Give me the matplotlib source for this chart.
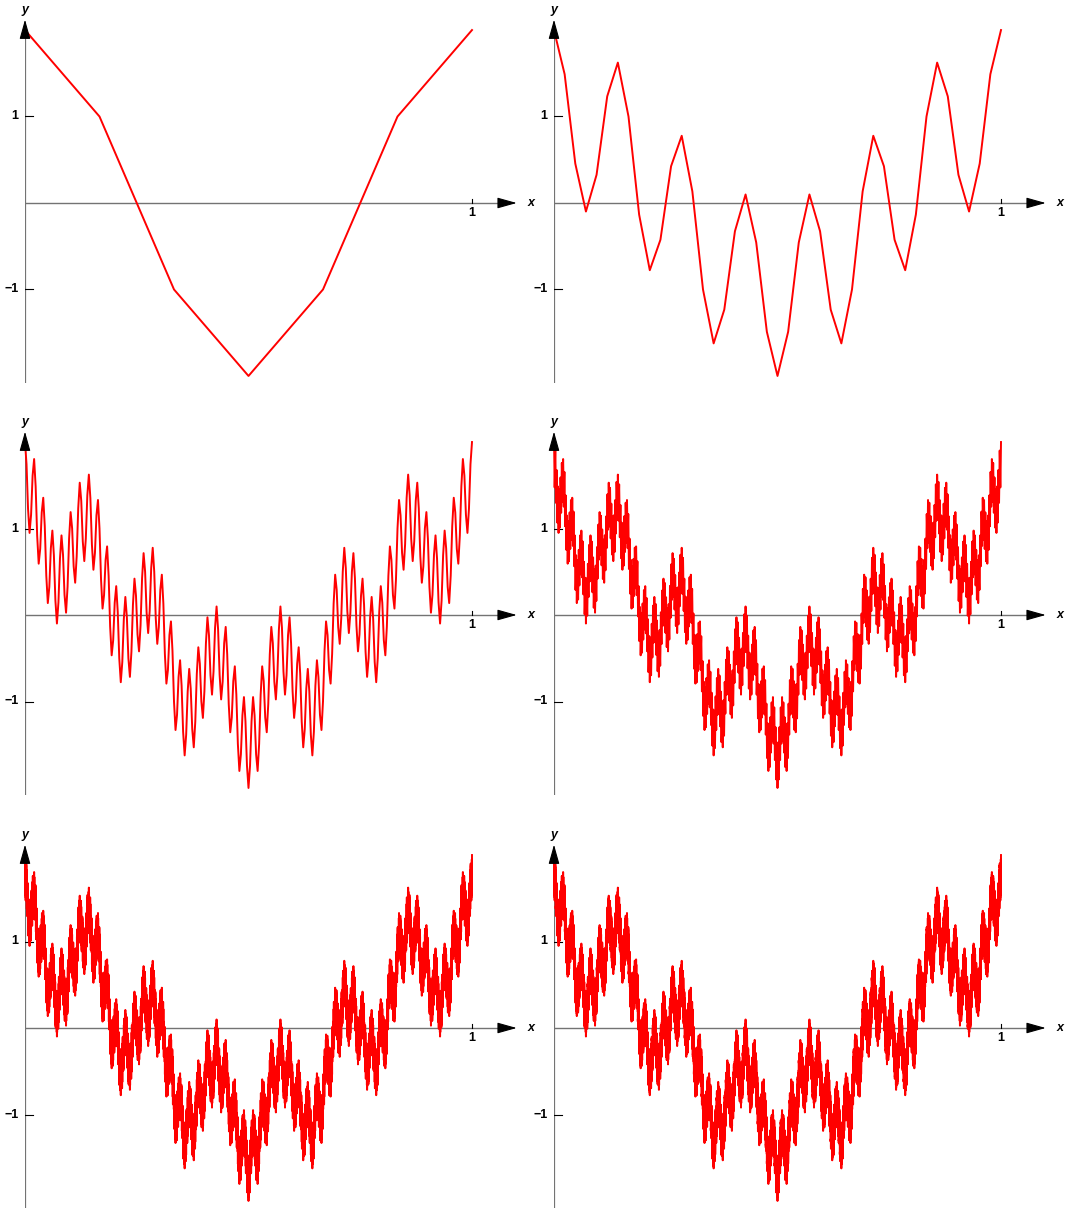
import numpy as np
import matplotlib
matplotlib.use("Agg")
import matplotlib.pyplot as plt

# Weierstrass-type sum W(x) = sum a^n cos(2*pi*b^n*x), sampled on finer and finer grids
amp_ratio = 0.5
freq_ratio = 7
n_terms = 12
grid_sizes = [6, 42, 294, 2058, 14406, 100842]

y_ticks = [1, -1]
y_tick_labels = ["1", "\u22121"]
x_ticks = [1]
x_tick_labels = ["1"]


def sample_curve(n_int):
    j = np.arange(n_int + 1, dtype=np.int64)
    total = np.zeros(n_int + 1)
    for n in range(n_terms):
        k = pow(freq_ratio, n, n_int)
        phase = (j * k) % n_int
        total += amp_ratio ** n * np.cos(2 * np.pi * phase / n_int)
    return j / n_int, total


W, H = 1065, 1211
fig = plt.figure(figsize=(W / 100, H / 100), dpi=100)

# pixel layout of each panel: origin x-pixel, x-axis y-pixel
col_x0 = [25, 554]
row_y0 = [203, 615, 1028]
px_per_x = 447.0
px_per_y = 86.5
xmin, xmax = 0.0, 1.1
ymin, ymax = -2.08, 2.12

font = dict(family="Liberation Sans", fontweight="bold", fontsize=9)
axis_col = "0.45"

for idx, n_int in enumerate(grid_sizes):
    r, c = divmod(idx, 2)
    left = col_x0[c] + xmin * px_per_x
    w = (xmax - xmin) * px_per_x
    top = row_y0[r] - ymax * px_per_y
    h = (ymax - ymin) * px_per_y
    ax = fig.add_axes([left / W, 1 - (top + h) / H, w / W, h / H])
    ax.set_xlim(xmin, xmax)
    ax.set_ylim(ymin, ymax)
    ax.axis("off")

    xs, ys = sample_curve(n_int)
    ax.plot(xs, ys, color="red", lw=1.4, zorder=3, clip_on=False)

    # axes lines
    ax.plot([0, xmax - 0.02], [0, 0], color=axis_col, lw=1.0, zorder=1)
    ax.plot([0, 0], [ymin, ymax - 0.1], color=axis_col, lw=1.6, zorder=1)
    arrow = dict(arrowstyle="-|>,head_length=1.0,head_width=0.28", color="black",
                 lw=0.8, mutation_scale=12, shrinkA=0, shrinkB=0)
    ax.annotate("", xy=(xmax, 0), xytext=(xmax - 0.03, 0), arrowprops=arrow, zorder=4)
    ax.annotate("", xy=(0, ymax), xytext=(0, ymax - 0.15), arrowprops=arrow, zorder=4)
    ax.text(xmax + 0.025, 0, "x", ha="left", va="center", style="italic",
            family="Liberation Sans", fontweight="bold", fontsize=9)
    ax.text(0, ymax + 0.04, "y", ha="center", va="bottom", style="italic",
            family="Liberation Sans", fontweight="bold", fontsize=9)

    # ticks
    for yt, lab in zip(y_ticks, y_tick_labels):
        ax.plot([0, 0.018], [yt, yt], color="black", lw=0.8, zorder=2)
        ax.text(-0.014, yt, lab, ha="right", va="center", **font)
    for xt, lab in zip(x_ticks, x_tick_labels):
        ax.plot([xt, xt], [0, 0.05], color="black", lw=0.8, zorder=2)
        ax.text(xt, -0.05, lab, ha="center", va="top", **font)

fig.savefig("out.png", dpi=100, facecolor="white")
